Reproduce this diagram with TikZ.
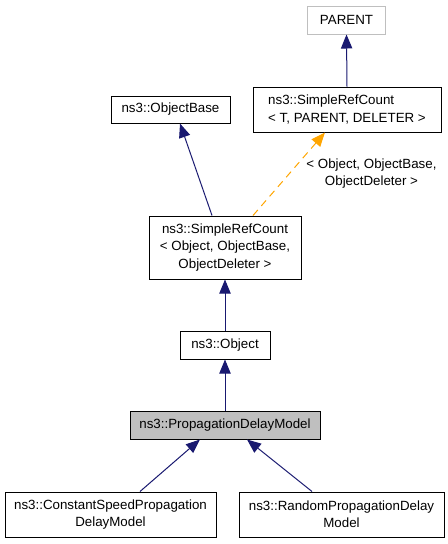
\documentclass[tikz,border=0pt]{standalone}
\usepackage{fontspec}
\setmainfont{Liberation Sans}
\usetikzlibrary{arrows.meta,calc}
\definecolor{edgeblue}{HTML}{191970}
\definecolor{dorange}{HTML}{FFA500}
\definecolor{boxgray}{HTML}{BFBFBF}
\begin{document}
\begin{tikzpicture}[x=0.75pt,y=-0.75pt,
  cls/.style={draw=black, line width=0.75pt, inner sep=0pt, align=center,
    font=\fontsize{10}{13}\selectfont},
  edge/.style={draw=edgeblue, line width=0.75pt,
    -{Triangle[length=10.5pt,width=8.5pt]}},
  tmpl/.style={draw=dorange, line width=0.75pt, dash pattern=on 5.5pt off 4pt,
    -{Triangle[length=10.5pt,width=8.5pt,fill=dorange]}},
  lbl/.style={font=\fontsize{10}{13}\selectfont, align=center, inner sep=0pt}]
\useasboundingbox (0,0) rectangle (448,544);
\node[cls, draw=boxgray, minimum width=58.5pt, minimum height=21pt] (parent) at (346.5,20) {PARENT};
\node[cls, align=left, minimum width=141pt, minimum height=33.75pt] (srct) at (347,109.5) {ns3::SimpleRefCount\\< T, PARENT, DELETER >};
\node[cls, minimum width=89.25pt, minimum height=20.25pt] (obase) at (170.5,109.5) {ns3::ObjectBase};
\node[cls, minimum width=114pt, minimum height=47.25pt] (srco) at (225,247.5) {ns3::SimpleRefCount\\< Object, ObjectBase,\\ObjectDeleter >};
\node[cls, minimum width=67.5pt, minimum height=21pt] (obj) at (225,345) {ns3::Object};
\node[cls, fill=boxgray, minimum width=142.5pt, minimum height=21pt] (pdm) at (225,425) {ns3::PropagationDelayModel};
\node[cls, minimum width=158.25pt, minimum height=33.75pt] (csp) at (110.5,514.5) {ns3::ConstantSpeedPropagation\\DelayModel};
\node[cls, minimum width=153.75pt, minimum height=33.75pt] (rpd) at (341.5,514.5) {ns3::RandomPropagationDelay\\Model};
\node[lbl] (tlabel) at (371.5,173.5) {< Object, ObjectBase,\\ObjectDeleter >};
\draw[edge] (srct.north) -- (parent.south);
\draw[edge] ($(srco.north)+(-13,0)$) -- ($(obase.south)+(9.5,0)$);
\draw[tmpl] ($(srco.north)+(28,0)$) -- ($(srct.south)+(-22,0)$);
\draw[edge] (obj.north) -- (srco.south);
\draw[edge] (pdm.north) -- (obj.south);
\draw[edge] ($(csp.north)+(29.5,0)$) -- ($(pdm.south)+(-25,0)$);
\draw[edge] ($(rpd.north)+(-29.5,0)$) -- ($(pdm.south)+(22,0)$);
\end{tikzpicture}
\end{document}
